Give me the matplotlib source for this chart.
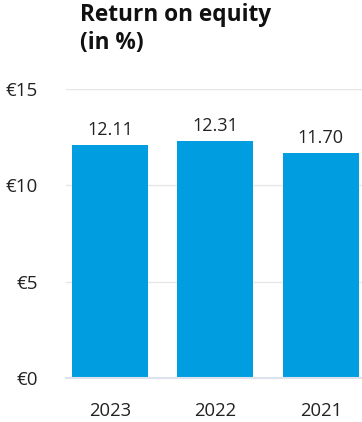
import matplotlib.pyplot as plt

# data
years = ["2023", "2022", "2021"]
roe = [12.11, 12.31, 11.70]
yticks = [0, 5, 10, 15]

plt.rcParams['font.family'] = ['Open Sans', 'DejaVu Sans']

fig = plt.figure(figsize=(3.62, 4.22), dpi=100)
ax = fig.add_axes([66 / 362, 44 / 422, 296 / 362, 289 / 422])

x = range(len(years))
bars = ax.bar(x, roe, width=0.72, color="#009ee0", zorder=3)

for b, v in zip(bars, roe):
    ax.annotate(f"{v:.2f}", (b.get_x() + b.get_width() / 2, v),
                xytext=(0, 4), textcoords="offset points",
                ha="center", va="bottom", fontsize=13, color="#222222")

ax.set_ylim(0, 15)
ax.set_xlim(-0.417, 2.39)
ax.set_yticks(yticks)
ax.set_yticklabels([f"€{t}" for t in yticks])
ax.set_xticks(list(x))
ax.set_xticklabels(years)
ax.tick_params(axis="y", length=0, pad=20, labelsize=13.5, labelcolor="#222222")
ax.tick_params(axis="x", length=0, pad=17, labelsize=13.3, labelcolor="#222222")

ax.grid(axis="y", color="#e6e6e6", linewidth=1, zorder=0)
for s in ["top", "right", "left"]:
    ax.spines[s].set_visible(False)
ax.spines["bottom"].set_color("#dde3ee")
ax.spines["bottom"].set_linewidth(1.5)
ax.spines["bottom"].set_zorder(4)

fig.text(80 / 362, 1 - 3 / 422, "Return on equity\n(in %)", ha="left", va="top",
         fontsize=16.3, fontweight="bold", color="#111111", linespacing=1.2)

fig.savefig("out.png", dpi=100)
